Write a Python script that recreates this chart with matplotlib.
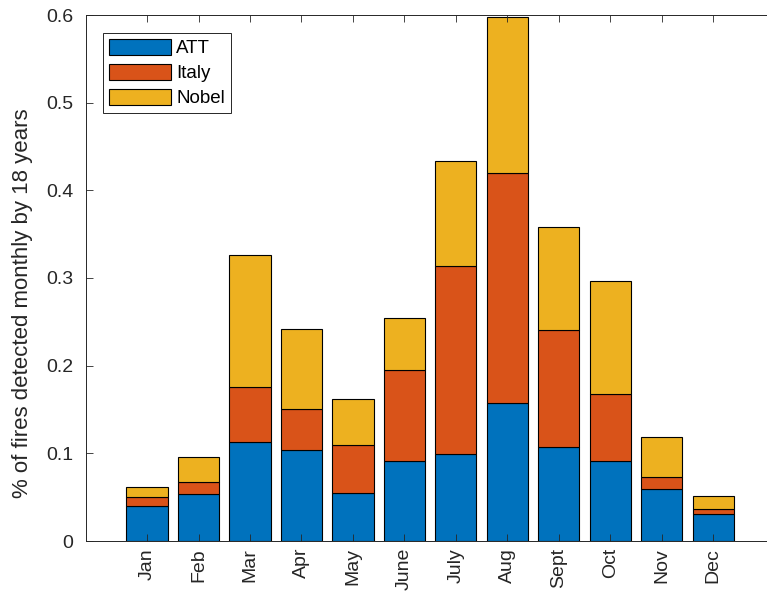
import numpy as np
import matplotlib
matplotlib.use("Agg")
import matplotlib.pyplot as plt

plt.rcParams['font.family'] = ['Liberation Sans', 'DejaVu Sans']

months = ['Jan', 'Feb', 'Mar', 'Apr', 'May', 'June', 'July', 'Aug', 'Sept', 'Oct', 'Nov', 'Dec']
att = [0.0396, 0.0536, 0.1126, 0.1034, 0.0551, 0.0909, 0.0989, 0.1571, 0.1072, 0.0909, 0.0590, 0.0304]
italy = [0.0102, 0.0137, 0.0627, 0.0468, 0.0544, 0.1045, 0.2148, 0.2623, 0.1331, 0.0764, 0.0137, 0.0065]
nobel = [0.0121, 0.0281, 0.1513, 0.0916, 0.0521, 0.0593, 0.1197, 0.1783, 0.1182, 0.1293, 0.0456, 0.0144]

colors = ['#0072BD', '#D95319', '#EDB120']

fig = plt.figure(figsize=(7.67, 5.96), dpi=100)
# axes runs past the right edge like in the original export
ax = fig.add_axes([86 / 767, 55 / 596, 689 / 767, 526 / 596])

x = np.arange(1, len(months) + 1)
bottom = np.zeros(len(months))
for vals, c, name in zip([att, italy, nobel], colors, ['ATT', 'Italy', 'Nobel']):
    ax.bar(x, vals, width=0.8, bottom=bottom, color=c, edgecolor='black',
           linewidth=0.8, label=name)
    bottom += np.array(vals)

ax.set_xlim(-0.186, 13.2)
ax.set_ylim(0, 0.6)
ax.set_xticks(x)
ax.set_xticklabels(months, rotation=90, fontsize=14)
ax.set_yticks([0, 0.1, 0.2, 0.3, 0.4, 0.5, 0.6])
ax.set_yticklabels(['0', '0.1', '0.2', '0.3', '0.4', '0.5', '0.6'], fontsize=14)
ax.tick_params(axis='both', direction='in', length=5, width=0.6, colors='#262626')
ax.tick_params(axis='x', top=True, pad=5)
ax.tick_params(axis='y', pad=9)
for s in ['left', 'bottom', 'top']:
    ax.spines[s].set_linewidth(0.7)
    ax.spines[s].set_color('#262626')
ax.spines['right'].set_visible(False)

ax.set_ylabel('% of fires detected monthly by 18 years', fontsize=16, color='#262626')
ax.yaxis.set_label_coords(-0.077, 0.4525)

leg = ax.legend(loc='upper left', bbox_to_anchor=(0.0247, 0.9658), borderaxespad=0,
                fontsize=13.5, handlelength=3.3, handleheight=1.0, handletextpad=0.3,
                labelspacing=0.33, fancybox=False, framealpha=1, borderpad=0.3)
leg.get_frame().set_edgecolor('#262626')
leg.get_frame().set_linewidth(0.7)

fig.savefig('out.png', dpi=100)
